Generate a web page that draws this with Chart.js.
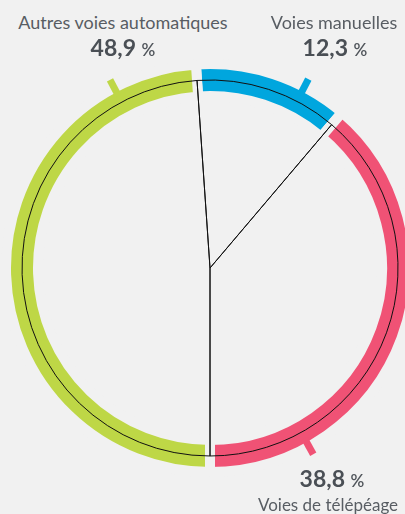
<!DOCTYPE html>
<html>
<head>
<meta charset="utf-8">
<script src="https://cdn.jsdelivr.net/npm/chart.js@4.4.1/dist/chart.umd.min.js"></script>
<style>
  html, body { margin: 0; padding: 0; }
  body { width: 405px; height: 514px; background: #f1f1f1; position: relative; overflow: hidden; font-family: Lato, sans-serif; }
  canvas { position: absolute; left: 0; top: 58px; }
  .lbl { position: absolute; width: 300px; text-align: center; color: #585d63; font-size: 18px; line-height: 22px; white-space: nowrap; }
  .val { position: absolute; width: 300px; text-align: center; color: #4a4f55; font-size: 23px; font-weight: 700; line-height: 28px; white-space: nowrap; }
  .val span { font-size: 17px; font-weight: 600; color: #50555b; }
</style>
</head>
<body>
<canvas id="ring" width="420" height="420"></canvas>
<canvas id="lines" width="420" height="420"></canvas>

<div class="lbl" style="left:-27px; top:11px">Autres voies automatiques</div>
<div class="val" style="left:-27px; top:33px">48,9 <span>%</span></div>

<div class="lbl" style="left:184px; top:11px">Voies manuelles</div>
<div class="val" style="left:185px; top:33px">12,3 <span>%</span></div>

<div class="val" style="left:182px; top:464px">38,8 <span>%</span></div>
<div class="lbl" style="left:178px; top:494px; font-size:17px">Voies de télépéage</div>

<script>
const categories = ['Voies manuelles', 'Voies de télépéage', 'Autres voies automatiques'];
const shares = [12.3, 38.8, 48.9];
const colors = ['#00a6de', '#f05275', '#bed746'];
// where the little pointer toward each label sits (deg, clockwise from top)
const pointerAngles = [27.5, 151, -28];

const BG = '#f1f1f1';
const GAP = 10;
// pink/green boundary sits straight down
const startAngle = 180 - (shares[0] + shares[1]) * 3.6;

const pointers = {
  id: 'pointers',
  afterDatasetsDraw(chart) {
    const arc = chart.getDatasetMeta(0).data[0];
    const r = arc.outerRadius - GAP / 2;
    const ctx = chart.ctx;
    pointerAngles.forEach((deg, i) => {
      ctx.save();
      ctx.translate(arc.x, arc.y);
      ctx.rotate(deg * Math.PI / 180);
      ctx.fillStyle = colors[i];
      ctx.fillRect(-3.5, -(r + 14), 7, 18);
      ctx.restore();
    });
  }
};

new Chart(document.getElementById('ring'), {
  type: 'doughnut',
  data: {
    labels: categories,
    datasets: [{
      data: shares,
      backgroundColor: colors,
      borderColor: BG,
      borderWidth: GAP,
      borderAlign: 'center',
      hoverOffset: 0
    }]
  },
  options: {
    responsive: false,
    animation: false,
    events: [],
    radius: 204,
    cutout: (172 / 204 * 100) + '%',
    rotation: startAngle,
    plugins: { legend: { display: false }, tooltip: { enabled: false } }
  },
  plugins: [pointers]
});

new Chart(document.getElementById('lines'), {
  type: 'pie',
  data: {
    labels: categories,
    datasets: [{
      data: shares,
      backgroundColor: 'rgba(0,0,0,0)',
      borderColor: '#111',
      borderWidth: 1,
      hoverOffset: 0
    }]
  },
  options: {
    responsive: false,
    animation: false,
    events: [],
    radius: 188,
    rotation: startAngle,
    plugins: { legend: { display: false }, tooltip: { enabled: false } }
  }
});
</script>
</body>
</html>
